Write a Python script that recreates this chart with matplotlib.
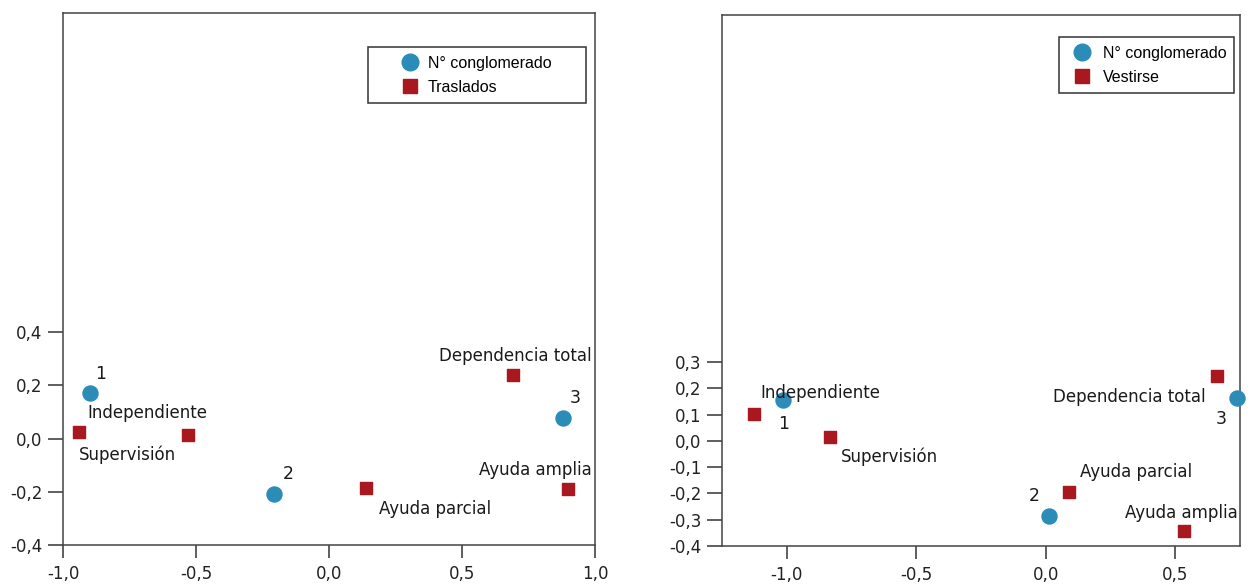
import matplotlib
matplotlib.use("Agg")
import matplotlib.pyplot as plt
from matplotlib.lines import Line2D

plt.rcParams['font.family'] = ['DejaVu Sans']

BLUE = '#2b8cb8'
RED = '#a8181e'

# Traslados: cluster centres and category points
tras_cluster_x = [-0.90, -0.205, 0.88]
tras_cluster_y = [0.172, -0.209, 0.078]
tras_cluster_lab = ['1', '2', '3']
tras_cat = ['Supervisión', 'Independiente', 'Ayuda parcial', 'Dependencia total', 'Ayuda amplia']
tras_cat_x = [-0.94, -0.53, 0.138, 0.69, 0.90]
tras_cat_y = [0.024, 0.014, -0.184, 0.239, -0.19]

# Vestirse: cluster centres and category points
vest_cluster_x = [-1.013, 0.011, 0.737]
vest_cluster_y = [0.157, -0.285, 0.164]
vest_cluster_lab = ['1', '2', '3']
vest_cat = ['Independiente', 'Supervisión', 'Ayuda parcial', 'Ayuda amplia', 'Dependencia total']
vest_cat_x = [-1.128, -0.834, 0.09, 0.533, 0.66]
vest_cat_y = [0.104, 0.016, -0.193, -0.344, 0.245]

# label offsets in pixels (dx, dy)
tras_cluster_off = [(11, 19), (14, 20), (12, 20)]
tras_cat_off = [(48, -23), (-41, 22), (69, -21), (3, 19), (-33, 19)]
vest_cluster_off = [(0, -24), (-14, 20), (-15, -21)]
vest_cat_off = [(67, 21), (60, -20), (67, 20), (-2, 18), (-87, -21)]

fig = plt.figure(figsize=(12.59, 5.85), dpi=100)
ax1 = fig.add_axes([63 / 1259, 1 - 545 / 585, 532 / 1259, 532 / 585])
ax2 = fig.add_axes([722 / 1259, 1 - 546 / 585, 518 / 1259, 531 / 585])


def fmt(v):
    return f'{v:.1f}'.replace('.', ',')


def draw(ax, cx, cy, clab, coff, kx, ky, klab, koff, xlim, ylim, xt, yt):
    ax.scatter(cx, cy, s=15 ** 2 * 0.52, color=BLUE, marker='o', zorder=3, clip_on=False)
    ax.scatter(kx, ky, s=12 ** 2 * 0.52, color=RED, marker='s', zorder=3, clip_on=False)
    for x, y, t, (dx, dy) in zip(cx, cy, clab, coff):
        ax.annotate(t, (x, y), xytext=(dx, dy), textcoords='offset pixels',
                    ha='center', va='center', fontsize=12.5, color='#1a1a1a')
    for x, y, t, (dx, dy) in zip(kx, ky, klab, koff):
        ax.annotate(t, (x, y), xytext=(dx, dy), textcoords='offset pixels',
                    ha='center', va='center', fontsize=12, color='#1a1a1a')
    ax.set_xlim(*xlim)
    ax.set_ylim(*ylim)
    ax.set_xticks(xt)
    ax.set_xticklabels([fmt(v) for v in xt])
    ax.set_yticks(yt)
    ax.set_yticklabels([fmt(v) for v in yt])
    for s in ax.spines.values():
        s.set_color('#444444')
        s.set_linewidth(1.1)
    ax.tick_params(axis='y', direction='out', length=11, width=1.1, color='#333333',
                   pad=4, labelsize=12, labelcolor='#222222')
    ax.tick_params(axis='x', direction='out', length=9, width=1.1, color='#333333',
                   pad=5.5, labelsize=12, labelcolor='#222222')


draw(ax1, tras_cluster_x, tras_cluster_y, tras_cluster_lab, tras_cluster_off,
     tras_cat_x, tras_cat_y, tras_cat, tras_cat_off,
     (-1.0, 1.0), (-0.4, 1.6), [-1.0, -0.5, 0.0, 0.5, 1.0], [-0.4, -0.2, 0.0, 0.2, 0.4])
draw(ax2, vest_cluster_x, vest_cluster_y, vest_cluster_lab, vest_cluster_off,
     vest_cat_x, vest_cat_y, vest_cat, vest_cat_off,
     (-1.25, 0.75), (-0.4, 1.62), [-1.0, -0.5, 0.0, 0.5],
     [-0.4, -0.3, -0.2, -0.1, 0.0, 0.1, 0.2, 0.3])


def legend(ax, name, box, hl, hp):
    x0, y0, x1, y1 = box
    handles = [
        Line2D([], [], ls='none', marker='o', ms=12, color=BLUE, label='N° conglomerado'),
        Line2D([], [], ls='none', marker='s', ms=9.5, color=RED, label=name),
    ]
    leg = ax.legend(handles=handles, loc='upper left', mode='expand',
                    bbox_to_anchor=(x0 / 1259, 1 - y1 / 585, (x1 - x0) / 1259, (y1 - y0) / 585),
                    bbox_transform=fig.transFigure, borderaxespad=0,
                    prop={'family': 'Liberation Sans', 'size': 11.5},
                    handlelength=hl, handletextpad=hp, borderpad=0.55, labelspacing=0.55,
                    fancybox=False, framealpha=1, edgecolor='#333333')
    leg.get_frame().set_linewidth(1.1)


legend(ax1, 'Traslados', (368, 47, 586, 109), 4.15, -0.95)
legend(ax2, 'Vestirse', (1059, 37, 1234, 104), 1.78, 0.43)

fig.savefig('out.png', dpi=100)
